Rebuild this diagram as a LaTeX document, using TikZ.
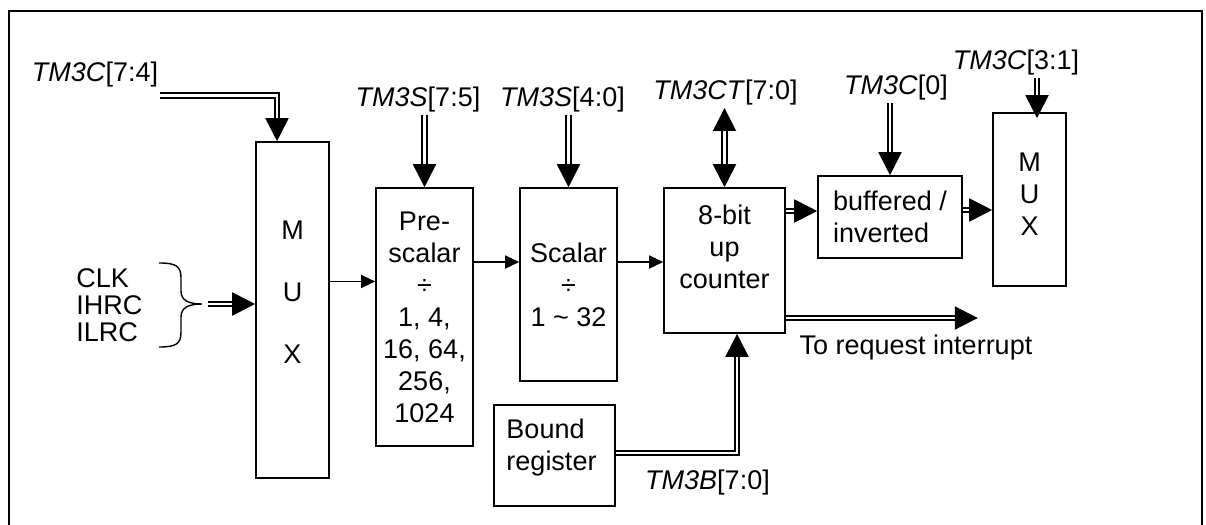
\documentclass[tikz,border=0pt]{standalone}
\usepackage{fontspec}
\setmainfont{Liberation Sans}
\usetikzlibrary{arrows.meta,positioning}

\begin{document}
\begin{tikzpicture}[x=0.5pt,y=-0.5pt,
    font=\fontsize{13.5}{16}\selectfont,
    block/.style={draw,line width=0.8pt,inner sep=0pt,align=center},
    lbl/.style={inner sep=1pt},
    sig/.style={line width=0.65pt,-{Triangle[length=7pt,width=6.5pt]}},
    bus/.style={double,line width=0.95pt,double distance=1.3pt,
                -{Triangle[length=11.5pt,width=11.5pt]}},
    bibus/.style={bus,{Triangle[length=11.5pt,width=11.5pt]}-{Triangle[length=11.5pt,width=11.5pt]}}]
    \useasboundingbox (0,0) rectangle (1206,525);
    % outer frame (open at the bottom)
    \draw[line width=1pt] (9,525) -- (9,11) -- (1202,11) -- (1202,525);

    % blocks
    \node[block,minimum width=36.5pt,minimum height=168pt] (mux1) at (292.5,310) {};
    \node[align=center] (mux1t) at ([yshift=8.75pt]mux1.center) {M\\[15pt]U\\[15pt]X};
    \node[block,minimum width=48.5pt,minimum height=129pt] (pre) at (424.5,317)
      {Pre-\\scalar\\÷\\1, 4,\\16, 64,\\256,\\1024};
    \node[block,minimum width=48.5pt,minimum height=96.5pt] (scal) at (568.5,284.5)
      {Scalar\\÷\\1 \textasciitilde{} 32};
    \node[block,minimum width=60.5pt,minimum height=72.5pt] (cnt) at (724.5,260.5) {};
    \node[align=center] (cntt) at ([yshift=6.75pt]cnt.center) {8-bit\\up\\counter};
    \node[block,align=left,minimum width=72pt,minimum height=41pt] (buf) at (890,217)
      {buffered /\\inverted};
    \node[block,minimum width=36.5pt,minimum height=86.5pt] (mux2) at (1029.5,199.5) {};
    \node[align=center] (mux2t) at ([yshift=2.5pt]mux2.center) {M\\U\\X};
    \node[block,minimum width=60.5pt,minimum height=50.5pt] (bound) at (554.5,455.5) {};
    \node[align=left] (boundt) at ([yshift=3.75pt,xshift=-1.5pt]bound.center) {Bound\\register};

    % labels
    \node[lbl] (l74) at (95,75) {\textit{TM3C}[7:4]};
    \node[lbl] (l75) at (418,100) {\textit{TM3S}[7:5]};
    \node[lbl] (l40) at (562.5,100) {\textit{TM3S}[4:0]};
    \node[lbl] (lct) at (725.5,93) {\textit{TM3CT}[7:0]};
    \node[lbl] (l0) at (896,88) {\textit{TM3C}[0]};
    \node[lbl] (l31) at (1016,63) {\textit{TM3C}[3:1]};
    \node[lbl] (lb) at (707.5,483) {\textit{TM3B}[7:0]};
    \node[lbl] (lint) at (916,348) {To request interrupt};
    \node[lbl,align=left,anchor=west,font=\fontsize{13.5}{13.5}\selectfont] (clk) at (74,305)
      {CLK\\IHRC\\ILRC};

    % brace
    \draw[line width=0.7pt] (159,263) .. controls (176,263) and (181,266) .. (181,278)
      -- (181,291) .. controls (181,300) and (188,304) .. (202,304) coordinate (brtip)
      .. controls (188,304) and (181,308) .. (181,317)
      -- (181,332) .. controls (181,344) and (176,347) .. (159,347);

    % connectors
    \draw[bus] ([xshift=3pt]brtip) -- (brtip -| mux1.west);
    \draw[bus] ([yshift=-2.75pt]l74.south east) -| ([xshift=-7.75pt]mux1.north);
    \draw[bus] (l75.south -| pre.north) -- (pre.north);
    \draw[bus] (l40.south -| scal.north) -- (scal.north);
    \draw[bibus] (lct.south -| cnt.north) -- (cnt.north);
    \draw[bus] (l0.south -| buf.north) -- (buf.north);
    \draw[bus] ([xshift=3.75pt]l31.south -| mux2.north) -- ([xshift=3.75pt,yshift=-3pt]mux2.north);
    \draw[sig] ([yshift=14.25pt]mux1.east) -- ([yshift=14.25pt]mux1.east -| pre.west);
    \draw[sig] ([yshift=27.5pt]pre.east) -- ([yshift=27.5pt]pre.east -| scal.west);
    \draw[sig] ([yshift=11.25pt]scal.east) -- ([yshift=11.25pt]scal.east -| cnt.west);
    \draw[bus] ([yshift=24.75pt]cnt.east) -- ([yshift=24.75pt]cnt.east -| buf.west);
    \draw[bus] ([yshift=3.5pt]buf.east) -- ([yshift=3.5pt]buf.east -| mux2.west);
    \draw[bus] ([yshift=-28.75pt]cnt.east) -- ++(192,0);
    \draw[bus] ([yshift=1.25pt]bound.east) -| ([xshift=6.25pt]cnt.south);
\end{tikzpicture}
\end{document}
